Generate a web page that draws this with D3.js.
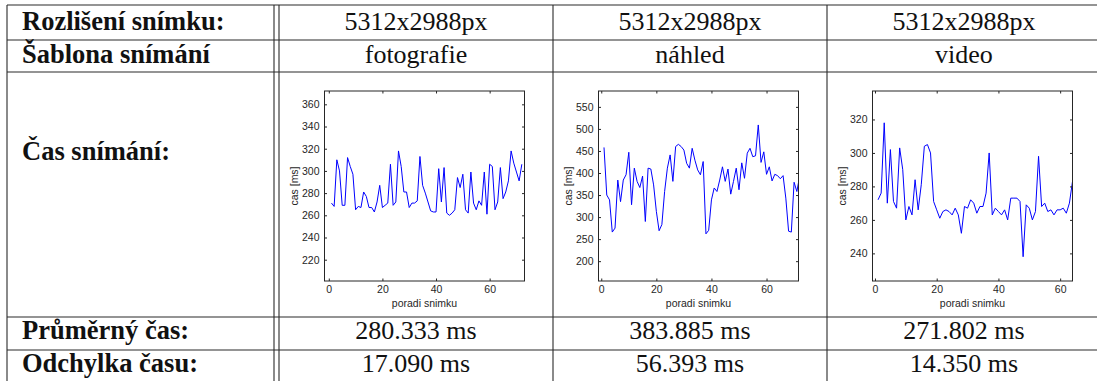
<!DOCTYPE html>
<html>
<head>
<meta charset="utf-8">
<script src="https://cdn.jsdelivr.net/npm/d3@7"></script>
<style>
  html, body { margin: 0; padding: 0; background: #fff; }
  svg { display: block; }
</style>
</head>
<body>
<svg id="tab" width="1097" height="381"></svg>
<script>
// ---- table content ----
const rowLabels = ["Rozlišení snímku:", "Šablona snímání", "Čas snímání:", "Průměrný čas:", "Odchylka času:"];
const resolutions = ["5312x2988px", "5312x2988px", "5312x2988px"];
const templates = ["fotografie", "náhled", "video"];
const meanTimes = [280.333, 383.885, 271.802];
const stdTimes = [17.090, 56.393, 14.350];

// ---- capture times per frame [ms] ----
const timesFotografie = [271, 268, 310, 300, 269, 269, 312, 304, 297, 265,
  268, 267, 281, 277, 267, 267, 263, 272, 287, 267,
  269, 271, 306, 269, 272, 318, 304, 281, 281, 267,
  271, 271, 273, 313, 287, 280, 272, 264, 263, 263,
  302, 272, 303, 262, 260, 262, 265, 294, 285, 297,
  265, 262, 299, 271, 265, 273, 269, 299, 261, 306,
  304, 265, 272, 303, 275, 281, 291, 318, 307, 299,
  291, 306];
const timesNahled = [458, 350, 339, 266, 275, 384, 335, 384, 396, 447,
  328, 411, 381, 367, 393, 290, 411, 409, 373, 313,
  269, 283, 358, 411, 441, 381, 460, 465, 460, 452,
  422, 411, 456, 429, 407, 396, 426, 262, 270, 339,
  366, 358, 384, 414, 381, 409, 352, 381, 411, 362,
  423, 388, 445, 456, 437, 439, 509, 424, 448, 397,
  414, 382, 397, 394, 387, 394, 343, 268, 266, 379,
  358, 392];
const timesVideo = [272, 276, 318, 270, 302, 271, 267, 303, 290, 260,
  268, 263, 284, 266, 281, 304, 305, 300, 271, 266,
  261, 265, 266, 265, 263, 267, 263, 252, 268, 267,
  272, 270, 264, 268, 268, 276, 300, 263, 267, 265,
  263, 266, 260, 273, 273, 273, 271, 238, 269, 267,
  260, 265, 298, 268, 270, 265, 266, 263, 266, 266,
  267, 264, 270, 283];

const frameTicks = [0, 20, 40, 60];
const timeTicksFotografie = [220, 240, 260, 280, 300, 320, 340, 360];
const timeTicksNahled = [200, 250, 300, 350, 400, 450, 500, 550];
const timeTicksVideo = [240, 260, 280, 300, 320];

const charts = [
  { values: timesFotografie, yTicks: timeTicksFotografie, yDomain: [200.8, 372], xDomain: [-1.6, 73] },
  { values: timesNahled,     yTicks: timeTicksNahled,     yDomain: [155, 586],   xDomain: [-1.0, 71.6] },
  { values: timesVideo,      yTicks: timeTicksVideo,      yDomain: [223.5, 337], xDomain: [-0.8, 64] }
];

// ---- layout ----
const svg = d3.select("#tab");
const vLines = [7, 553, 827, 1101];
const doubleRule = [274, 279];
const hLines = [5, 40, 72, 317, 350, 383];
const cellLeft = [279, 553, 827];
const cellRight = [553, 827, 1101];
const serif = "'Liberation Serif', 'Times New Roman', serif";
const sans = "'Liberation Sans', Arial, Helvetica, sans-serif";
const lineColor = "#2a2a2a";

// grid rules
svg.append("g").selectAll("line").data(hLines).join("line")
  .attr("x1", 7).attr("x2", 1101).attr("y1", d => d).attr("y2", d => d)
  .attr("stroke", lineColor).attr("stroke-width", 1.1);
svg.append("g").selectAll("line").data(vLines.concat(doubleRule)).join("line")
  .attr("x1", d => d).attr("x2", d => d).attr("y1", 5).attr("y2", 383)
  .attr("stroke", lineColor).attr("stroke-width", 1.1);

// row headers
const rowBaselines = [30, 63, 160, 339, 372];
svg.append("g").selectAll("text").data(rowLabels).join("text")
  .attr("x", 22).attr("y", (d, i) => rowBaselines[i])
  .attr("font-family", serif).attr("font-weight", "bold")
  .attr("font-size", 26.5).attr("fill", "#111")
  .text(d => d);

// text cells
const fmt = d3.format(".3f");
const textRows = [
  { y: rowBaselines[0], cells: resolutions },
  { y: rowBaselines[1], cells: templates },
  { y: rowBaselines[3], cells: meanTimes.map(v => fmt(v) + " ms") },
  { y: rowBaselines[4], cells: stdTimes.map(v => fmt(v) + " ms") }
];
textRows.forEach(r => {
  svg.append("g").selectAll("text").data(r.cells).join("text")
    .attr("x", (d, i) => (cellLeft[i] + cellRight[i]) / 2).attr("y", r.y)
    .attr("text-anchor", "middle")
    .attr("font-family", serif).attr("font-size", 26).attr("fill", "#111")
    .text(d => d);
});

// ---- small line charts ----
const plotW = 200, plotH = 190, plotTop = 91, plotOffset = 45.5;
const axisColor = "#262626";

charts.forEach((c, k) => {
  const g = svg.append("g").attr("transform", `translate(${cellLeft[k] + plotOffset},${plotTop})`);
  const x = d3.scaleLinear().domain(c.xDomain).range([0, plotW]);
  const y = d3.scaleLinear().domain(c.yDomain).range([plotH, 0]);

  const clipId = "clip" + k;
  g.append("clipPath").attr("id", clipId)
    .append("rect").attr("width", plotW).attr("height", plotH);

  const line = d3.line().x((d, i) => x(i + 1)).y(d => y(d));
  g.append("path").datum(c.values)
    .attr("clip-path", `url(#${clipId})`)
    .attr("fill", "none").attr("stroke", "#0000ff").attr("stroke-width", 1)
    .attr("stroke-linejoin", "round")
    .attr("d", line);

  const styleAxis = sel => {
    sel.select(".domain").remove();
    sel.selectAll("line").attr("stroke", axisColor);
    sel.selectAll("text").attr("fill", axisColor)
      .attr("font-family", sans).attr("font-size", 10.5);
  };

  g.append("g").call(d3.axisLeft(y).tickValues(c.yTicks).tickSize(-2.5).tickPadding(5))
    .call(styleAxis);
  g.append("g").attr("transform", `translate(${plotW},0)`)
    .call(d3.axisRight(y).tickValues(c.yTicks).tickSize(-2.5).tickFormat(""))
    .call(styleAxis);
  g.append("g").attr("transform", `translate(0,${plotH})`)
    .call(d3.axisBottom(x).tickValues(frameTicks).tickSize(-2.5).tickPadding(5))
    .call(styleAxis);
  g.append("g")
    .call(d3.axisTop(x).tickValues(frameTicks).tickSize(-2.5).tickFormat(""))
    .call(styleAxis);

  g.append("rect").attr("width", plotW).attr("height", plotH)
    .attr("fill", "none").attr("stroke", axisColor).attr("stroke-width", 1);

  g.append("text")
    .attr("x", plotW / 2).attr("y", plotH + 26)
    .attr("text-anchor", "middle")
    .attr("font-family", sans).attr("font-size", 10.5).attr("fill", axisColor)
    .text("poradi snimku");
  g.append("text")
    .attr("transform", `translate(-27,${plotH / 2}) rotate(-90)`)
    .attr("text-anchor", "middle")
    .attr("font-family", sans).attr("font-size", 10.5).attr("fill", axisColor)
    .text("cas [ms]");
});
</script>
</body>
</html>
